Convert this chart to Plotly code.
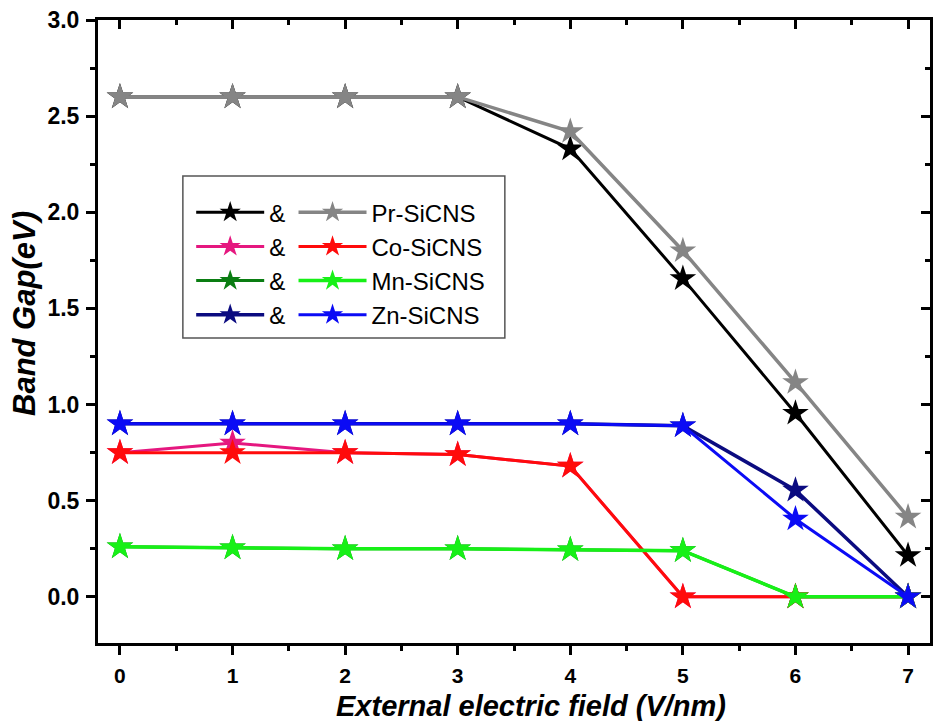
import plotly.graph_objects as go

field = [0, 1, 2, 3, 4, 5, 6, 7]
y_ticks = [0.0, 0.5, 1.0, 1.5, 2.0, 2.5, 3.0]

pr_dark = [2.60, 2.60, 2.60, 2.60, 2.33, 1.655, 0.955, 0.215]
pr_light = [2.60, 2.60, 2.60, 2.60, 2.42, 1.80, 1.115, 0.415]
co_dark = [0.75, 0.80, 0.75, 0.74, 0.68, 0.0, 0.0, 0.0]
co_light = [0.75, 0.75, 0.75, 0.74, 0.68, 0.0, 0.0, 0.0]
mn_dark = [0.26, 0.255, 0.25, 0.25, 0.245, 0.24, 0.0, 0.0]
mn_light = [0.26, 0.255, 0.25, 0.25, 0.245, 0.24, 0.0, 0.0]
zn_dark = [0.90, 0.90, 0.90, 0.90, 0.90, 0.89, 0.555, 0.0]
zn_light = [0.90, 0.90, 0.90, 0.90, 0.90, 0.89, 0.405, 0.0]

labels = ["Pr-SiCNS", "Co-SiCNS", "Mn-SiCNS", "Zn-SiCNS"]
dark_series = [pr_dark, co_dark, mn_dark, zn_dark]
light_series = [pr_light, co_light, mn_light, zn_light]
dark_colors = ["#000000", "#e5177f", "#0a7d12", "#0b0b80"]
light_colors = ["#858585", "#ff0b0b", "#17f017", "#0b0bf5"]
dark_widths = [3, 3, 3, 3.5]
light_widths = [3.5, 3, 3.5, 3]

FONT = "Liberation Sans, Arial, sans-serif"

fig = go.Figure()

for i, (ys, c) in enumerate(zip(dark_series, dark_colors)):
    fig.add_trace(go.Scatter(
        x=field, y=ys, mode="lines+markers", name="&",
        line=dict(color=c, width=dark_widths[i]),
        marker=dict(symbol="star", size=20, color=c, line=dict(width=0)),
        legend="legend", legendgroup=f"d{i}",
    ))
for i, (ys, c, lab) in enumerate(zip(light_series, light_colors, labels)):
    fig.add_trace(go.Scatter(
        x=field, y=ys, mode="lines+markers", name=lab,
        line=dict(color=c, width=light_widths[i]),
        marker=dict(symbol="star", size=20, color=c, line=dict(width=0)),
        legend="legend2", legendgroup=f"l{i}",
    ))

xr = [-0.195, 7.195]
yr = [-0.24, 3.0]

axis_common = dict(showline=True, linecolor="black", linewidth=3, showgrid=False,
                   zeroline=False, ticks="outside", tickcolor="black", tickwidth=2.5,
                   ticklen=9)

fig.update_layout(
    width=933, height=721,
    margin=dict(l=98, r=3, t=20, b=78),
    paper_bgcolor="white", plot_bgcolor="white",
    font=dict(family=FONT, color="black"),
    xaxis=dict(
        range=xr, tickmode="array", tickvals=field,
        ticktext=[f"<b>{v}</b>" for v in field],
        tickfont=dict(size=21, family=FONT), ticklabelstandoff=3,
        minor=dict(dtick=0.5, tick0=0, ticks="outside", ticklen=5, tickwidth=2.5, tickcolor="black"),
        **axis_common,
    ),
    yaxis=dict(
        range=yr, tickmode="array", tickvals=y_ticks,
        ticktext=[f"<b>{v:.1f}</b>" for v in y_ticks],
        tickfont=dict(size=23, family=FONT), ticklabelstandoff=2,
        minor=dict(dtick=0.25, tick0=0, ticks="outside", ticklen=5, tickwidth=2.5, tickcolor="black"),
        **axis_common,
    ),
    xaxis2=dict(overlaying="x", side="top", range=xr, showline=True, linecolor="black", linewidth=3,
                showgrid=False, zeroline=False, ticks="inside", tickcolor="black", tickwidth=2.5, ticklen=9,
                tickvals=field, showticklabels=False,
                minor=dict(dtick=0.5, tick0=0, ticks="inside", ticklen=5, tickwidth=2.5, tickcolor="black")),
    yaxis2=dict(overlaying="y", side="right", range=yr, showline=True, linecolor="black", linewidth=3,
                showgrid=False, zeroline=False, ticks="inside", tickcolor="black", tickwidth=2.5, ticklen=9,
                tickvals=y_ticks, showticklabels=False,
                minor=dict(dtick=0.25, tick0=0, ticks="inside", ticklen=5, tickwidth=2.5, tickcolor="black")),
    legend=dict(x=0.112, y=0.727, xanchor="left", yanchor="top", bgcolor="rgba(0,0,0,0)",
                font=dict(size=24, family=FONT), itemwidth=68, tracegroupgap=0,
                traceorder="grouped", itemclick=False),
    legend2=dict(x=0.235, y=0.727, xanchor="left", yanchor="top", bgcolor="rgba(0,0,0,0)",
                 font=dict(size=24, family=FONT), itemwidth=68, tracegroupgap=0,
                 traceorder="grouped", itemclick=False),
    showlegend=True,
)

# invisible trace to activate the mirrored axes
fig.add_trace(go.Scatter(x=[None], y=[None], xaxis="x2", yaxis="y2", showlegend=False, hoverinfo="skip"))

fig.add_shape(type="rect", xref="paper", yref="paper", x0=0.102, x1=0.489, y0=0.4896, y1=0.7496,
              line=dict(color="#555555", width=1.5), fillcolor="rgba(0,0,0,0)", layer="below")

# axis titles
fig.add_annotation(text="<b><i>External electric field (V/nm)</i></b>", xref="paper", yref="paper",
                   x=(531 - 98) / 832, y=-(706 - 643) / 623, xanchor="center", yanchor="middle",
                   showarrow=False, font=dict(size=29, family=FONT))
fig.add_annotation(text="<b><i>Band Gap(eV)</i></b>", xref="paper", yref="paper",
                   x=-(98 - 24) / 832, y=(643 - 314) / 623, xanchor="center", yanchor="middle",
                   textangle=-90, showarrow=False, font=dict(size=31, family=FONT))

fig.write_html("out.html")
